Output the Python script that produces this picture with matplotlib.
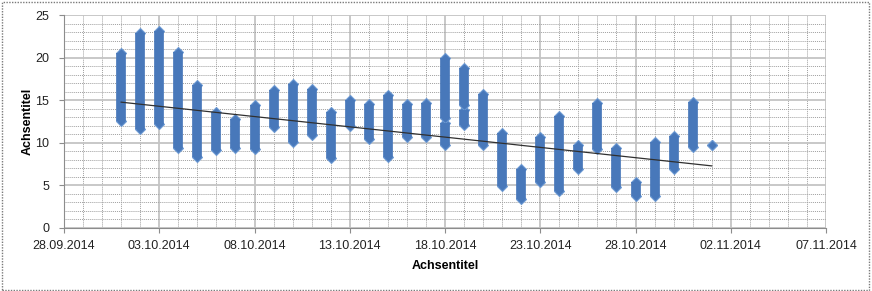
import numpy as np
import pandas as pd
import matplotlib
matplotlib.use('Agg')
import matplotlib.pyplot as plt
import matplotlib.dates as mdates
from matplotlib.patches import Rectangle

plt.rcParams['font.family'] = ['Liberation Sans', 'DejaVu Sans']

# one entry per vertical run of points (days with a gap appear twice)
days = ['01.10.2014', '02.10.2014', '03.10.2014', '04.10.2014', '05.10.2014',
        '06.10.2014', '07.10.2014', '08.10.2014', '09.10.2014', '10.10.2014',
        '11.10.2014', '12.10.2014', '13.10.2014', '14.10.2014', '15.10.2014',
        '16.10.2014', '17.10.2014', '18.10.2014', '18.10.2014', '19.10.2014',
        '19.10.2014', '20.10.2014', '21.10.2014', '22.10.2014', '23.10.2014',
        '24.10.2014', '25.10.2014', '26.10.2014', '27.10.2014', '28.10.2014',
        '29.10.2014', '30.10.2014', '31.10.2014', '01.11.2014']
low = [12.6, 11.6, 12.2, 9.4, 8.3,
       9.2, 9.4, 9.3, 11.9, 10.1,
       10.9, 8.2, 12.0, 10.4, 8.3,
       10.7, 10.7, 9.8, 12.9, 12.1,
       14.4, 9.7, 4.9, 3.4, 5.4,
       4.4, 6.9, 9.3, 4.8, 3.7,
       3.8, 6.9, 9.5, 9.8]
high = [20.5, 22.9, 23.1, 20.6, 16.8,
        13.6, 12.8, 14.4, 16.2, 16.9,
        16.3, 13.6, 15.0, 14.5, 15.6,
        14.5, 14.7, 12.3, 19.9, 13.8,
        18.8, 15.7, 11.1, 6.9, 10.7,
        13.1, 9.8, 14.7, 9.4, 5.4,
        10.1, 10.8, 14.8, 9.8]

trend_days = ['01.10.2014', '01.11.2014']
trend_vals = [14.77, 7.29]

x = pd.to_datetime(days, format='%d.%m.%Y')
xt = pd.to_datetime(trend_days, format='%d.%m.%Y')

fill = '#4878BA'
edge = '#6A98D2'

fig = plt.figure(figsize=(8.72, 2.91), dpi=100)
ax = fig.add_axes([64/872, 1-228/291, (826-64)/872, (228-15)/291])

for xi, lo, hi in zip(x, low, high):
    # diamond tips first, then the body on top so only the tips show
    ax.plot([xi, xi], [lo, hi], 'D', ms=5.2, mfc=fill, mec=edge, mew=0.8, zorder=3)
    ax.plot([xi, xi], [lo, hi], '-', color=fill, lw=7, solid_capstyle='butt', zorder=3.1)

ax.plot(xt, trend_vals, '-', color='#303030', lw=0.9, zorder=4)

start = pd.Timestamp('2014-09-28')
end = pd.Timestamp('2014-11-07')
ax.set_xlim(start, end)
ax.set_ylim(0, 25)

ax.xaxis.set_major_locator(matplotlib.ticker.FixedLocator(
    mdates.date2num(pd.date_range(start, end, freq='5D'))))
ax.xaxis.set_minor_locator(mdates.DayLocator())
ax.xaxis.set_major_formatter(mdates.DateFormatter('%d.%m.%Y'))
ax.set_yticks(np.arange(0, 26, 5))
ax.set_yticks(np.arange(0, 26, 1), minor=True)

ax.grid(which='major', color='#c4c4c4', lw=1.3, ls='-', zorder=0)
ax.grid(which='minor', color='#a0a0a0', lw=0.7, ls=(0, (1, 1)), zorder=0)
ax.set_axisbelow(True)

for s in ['top', 'right']:
    ax.spines[s].set_visible(False)
for s in ['left', 'bottom']:
    ax.spines[s].set_color('#8c8c8c')
    ax.spines[s].set_linewidth(0.8)

ax.tick_params(which='major', length=3.5, width=0.8, color='#8c8c8c',
               labelsize=9, labelcolor='#222222', pad=5)
ax.tick_params(which='minor', length=0)
ax.tick_params(axis='y', pad=7)

ax.set_xlabel('Achsentitel', fontsize=9, fontweight='bold', labelpad=6)
ax.set_ylabel('Achsentitel', fontsize=9, fontweight='bold', labelpad=1)

fig.patches.append(Rectangle((0.002, 0.004), 0.994, 0.99, transform=fig.transFigure,
                             fill=False, ec='#7a7a7a', lw=1, ls=(0, (1, 1))))

fig.savefig('out.png', dpi=100)
